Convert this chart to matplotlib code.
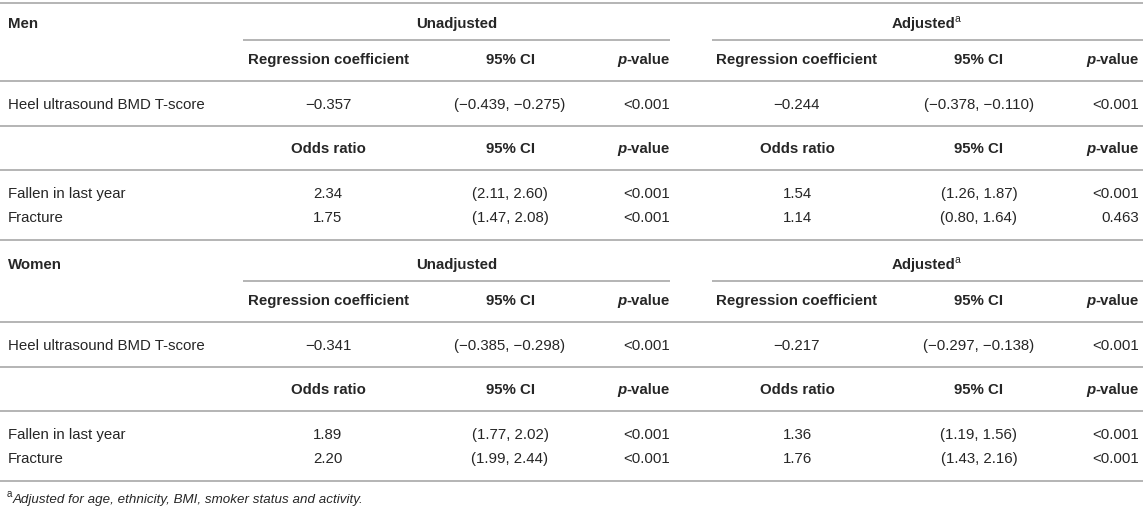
import matplotlib
matplotlib.use("Agg")
import matplotlib.pyplot as plt

# -------------------------
# Table data
# -------------------------
sections = ["Men", "Women"]
groups = ["Unadjusted", "Adjusted"]
bmd_label = "Heel ultrasound BMD T-score"
outcomes = ["Fallen in last year", "Fracture"]

# regression coefficient for heel BMD T-score: [unadjusted, adjusted]
men_bmd_coef = [-0.357, -0.244]
men_bmd_ci = [(-0.439, -0.275), (-0.378, -0.110)]
men_bmd_p = ["<0.001", "<0.001"]
women_bmd_coef = [-0.341, -0.217]
women_bmd_ci = [(-0.385, -0.298), (-0.297, -0.138)]
women_bmd_p = ["<0.001", "<0.001"]

# odds ratios: rows = outcomes, cols = [unadjusted, adjusted]
men_or = [[2.34, 1.54], [1.75, 1.14]]
men_or_ci = [[(2.11, 2.60), (1.26, 1.87)], [(1.47, 2.08), (0.80, 1.64)]]
men_or_p = [["<0.001", "<0.001"], ["<0.001", "0.463"]]
women_or = [[1.89, 1.36], [2.20, 1.76]]
women_or_ci = [[(1.77, 2.02), (1.19, 1.56)], [(1.99, 2.44), (1.43, 2.16)]]
women_or_p = [["<0.001", "<0.001"], ["<0.001", "<0.001"]]

footnote = "Adjusted for age, ethnicity, BMI, smoker status and activity."

# -------------------------
# Layout (pixels)
# -------------------------
W, H = 1143, 508
TXT = "#262626"
LINE = "#b4b4b4"
FS = 10.8
plt.rcParams["font.family"] = ["Liberation Sans", "DejaVu Sans"]

fig = plt.figure(figsize=(W / 100, H / 100), dpi=100)
ax = fig.add_axes([0, 0, 1, 1])
ax.set_xlim(0, W)
ax.set_ylim(H, 0)
ax.axis("off")
renderer = fig.canvas.get_renderer()

x_label = 8
col_shift = 469
x_coef = 328
x_ci = 510
x_p = 670
x_group = 457
line_starts = [243, 712]
line_ends = [670, W]


def fmt(v, nd):
    return f"{v:.{nd}f}".replace("-", "\u2212")


def fmt_ci(ci, nd):
    return "(" + fmt(ci[0], nd) + ", " + fmt(ci[1], nd) + ")"


def put(x, y, s, ha="center", **kw):
    # y is the visual centre of the row
    return ax.text(x, y + 5, s, ha=ha, va="baseline", fontsize=FS, color=TXT, **kw)


def width(t):
    return t.get_window_extent(renderer).width


def hline(y, x0=0, x1=W):
    ax.plot([x0, x1], [y, y], color=LINE, lw=1.4, solid_capstyle="butt")


def p_header(xr, y):
    t = put(xr, y, "-value", ha="right", fontweight="bold")
    put(xr - width(t), y, "p", ha="right", fontweight="bold", fontstyle="italic")


def col_headers(y, first):
    for g in range(2):
        off = g * col_shift
        put(x_coef + off, y, first, fontweight="bold")
        put(x_ci + off, y, "95% CI", fontweight="bold")
        p_header(x_p + off, y)


hline(3)
section_data = [
    (men_bmd_coef, men_bmd_ci, men_bmd_p, men_or, men_or_ci, men_or_p),
    (women_bmd_coef, women_bmd_ci, women_bmd_p, women_or, women_or_ci, women_or_p),
]
for si, name in enumerate(sections):
    bc, bci, bp, orv, orci, orp = section_data[si]
    y0 = si * 241
    put(x_label, y0 + 23, name, ha="left", fontweight="bold")
    # group titles
    for g, gname in enumerate(groups):
        xc = x_group + g * col_shift
        if g == 0:
            put(xc, y0 + 23, gname, fontweight="bold")
        else:
            t = ax.text(0, y0 + 28, gname, ha="left", va="baseline", fontsize=FS,
                        color=TXT, fontweight="bold")
            sup = ax.text(0, y0 + 22, "a", ha="left", va="baseline", fontsize=7.5,
                          color=TXT)
            w1, w2 = width(t), width(sup)
            left = xc - (w1 + w2) / 2
            t.set_x(left)
            sup.set_x(left + w1 - 0.5)
        hline(y0 + 40, line_starts[g], line_ends[g])

    col_headers(y0 + 59, "Regression coefficient")
    hline(y0 + 81)
    put(x_label, y0 + 104, bmd_label, ha="left")
    for g in range(2):
        off = g * col_shift
        put(x_coef + off, y0 + 104, fmt(bc[g], 3))
        put(x_ci + off, y0 + 104, fmt_ci(bci[g], 3))
        put(x_p + off, y0 + 104, bp[g], ha="right")
    hline(y0 + 126)

    col_headers(y0 + 148, "Odds ratio")
    hline(y0 + 170)
    for r, oname in enumerate(outcomes):
        yr = y0 + 193 + r * 24
        put(x_label, yr, oname, ha="left")
        for g in range(2):
            off = g * col_shift
            put(x_coef + off, yr, fmt(orv[r][g], 2))
            put(x_ci + off, yr, fmt_ci(orci[r][g], 2))
            put(x_p + off, yr, orp[r][g], ha="right")
    hline(y0 + 240)

# footnote
sup = ax.text(x_label - 1, 497, "a", ha="left", va="baseline", fontsize=7,
              color=TXT)
ax.text(x_label - 1 + width(sup) + 0.5, 503, footnote, ha="left", va="baseline",
        fontsize=9.6, color=TXT, fontstyle="italic")

fig.savefig("out.png", dpi=100)
